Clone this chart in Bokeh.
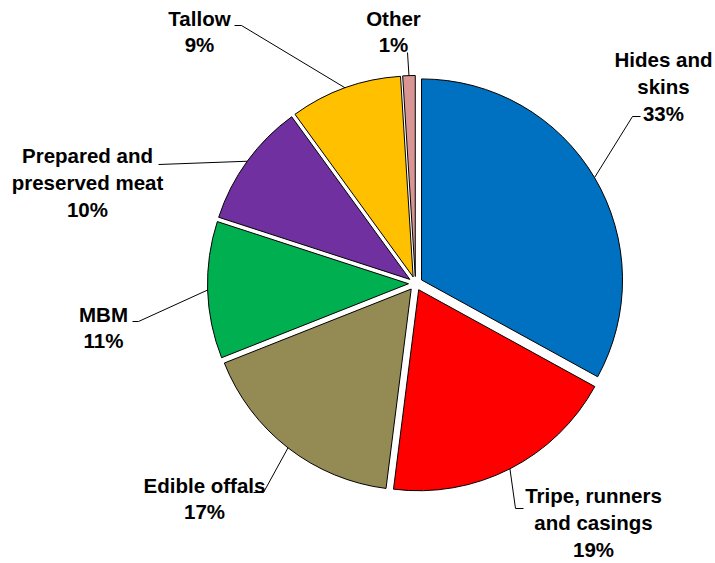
import math
from bokeh.plotting import figure
from bokeh.models import Range1d, ColumnDataSource
from bokeh.embed import file_html
from bokeh.resources import INLINE
from bokeh.core.properties import value

categories = ["Hides and\nskins", "Tripe, runners\nand casings", "Edible offals", "MBM",
              "Prepared and\npreserved meat", "Tallow", "Other"]
shares = [33, 19, 17, 11, 10, 9, 1]
colors = ["#0070C0", "#FF0000", "#948A54", "#00B050", "#7030A0", "#FFC000", "#D99594"]

# layout (data units = screen pixels, y measured upward)
CX, CY, R, EXPLODE = 415, 280, 201, 7
label_pos = [(663, 477), (593, 41), (204, 65), (103, 236), (87, 381), (199, 532), (393, 532)]
leader_start = [(640, 447), (523, 55), (253, 71), (132, 242), (158, 399), (234, 538), (407, 511)]
leader_elbow = [(632, 447), (515, 55), (263, 71), (138, 242), (158, 399), (241, 538), (407, 511)]

total = sum(shares)
starts, ends, xs, ys, ax, ay = [], [], [], [], [], []
cum = 0.0
for s in shares:
    a0 = math.pi / 2 - 2 * math.pi * cum / total
    a1 = math.pi / 2 - 2 * math.pi * (cum + s) / total
    mid = (a0 + a1) / 2
    starts.append(a0)
    ends.append(a1)
    ox = CX + EXPLODE * math.cos(mid)
    oy = CY + EXPLODE * math.sin(mid)
    xs.append(ox)
    ys.append(oy)
    ax.append(ox + R * math.cos(mid))
    ay.append(oy + R * math.sin(mid))
    cum += s

src = ColumnDataSource(dict(x=xs, y=ys, start=starts, end=ends, color=colors))

p = figure(width=715, height=563, output_backend="svg", toolbar_location=None,
           x_range=Range1d(0, 715), y_range=Range1d(0, 563), min_border=0)
p.axis.visible = False
p.grid.visible = False
p.outline_line_color = None

p.wedge(x="x", y="y", radius=R, start_angle="start", end_angle="end", direction="clock",
        fill_color="color", line_color="black", line_width=1, source=src)

lx, ly = [], []
for (sx, sy), (ex, ey), a, b in zip(leader_start, leader_elbow, ax, ay):
    lx.append([sx, ex, a])
    ly.append([sy, ey, b])
p.multi_line(lx, ly, line_color="black", line_width=1)

texts = [f"{c}\n{s}%" for c, s in zip(categories, shares)]
p.text(x=[q[0] for q in label_pos], y=[q[1] for q in label_pos], text=texts,
       text_align="center", text_baseline="middle", text_font=value("Liberation Sans"),
       text_font_style="bold", text_font_size="20.5px", text_line_height=1.17, text_color="black")

open("out.html", "w").write(file_html(p, INLINE))
